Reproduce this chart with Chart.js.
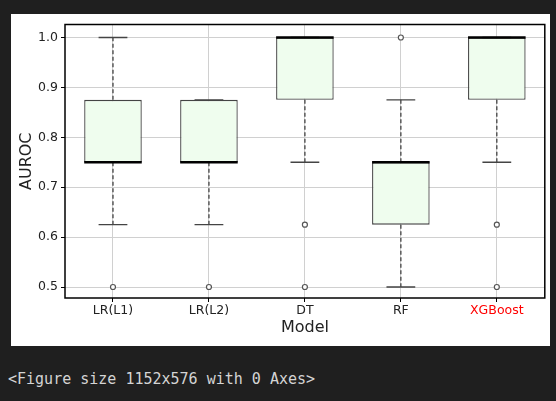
<!DOCTYPE html>
<html>
<head>
<script src="https://cdn.jsdelivr.net/npm/chart.js@4"></script>
<style>
  body { margin: 0; background: #1f1f1f; width: 556px; height: 401px; overflow: hidden; }
  #fig { position: absolute; left: 11px; top: 14px; width: 539px; height: 332px; background: #fff; }
  #out { position: absolute; left: 8px; top: 370px; color: #d4d4d4; font: 15px "DejaVu Sans Mono", monospace; }
</style>
</head>
<body>
<div id="fig"><canvas id="c" width="539" height="332"></canvas></div>
<div id="out">&lt;Figure size 1152x576 with 0 Axes&gt;</div>
<script>
const models = ['LR(L1)', 'LR(L2)', 'DT', 'RF', 'XGBoost'];
const whiskLo = [0.625, 0.625, 0.75, 0.5, 0.75];
const q1 = [0.75, 0.75, 0.875, 0.625, 0.875];
const median = [0.75, 0.75, 1.0, 0.75, 1.0];
const q3 = [0.875, 0.875, 1.0, 0.75, 1.0];
const whiskHi = [1.0, 0.875, 1.0, 0.875, 1.0];
const outliers = [[0.5], [0.5], [0.625, 0.5], [1.0], [0.625, 0.5]];
const yTicks = [0.5, 0.6, 0.7, 0.8, 0.9, 1.0];

const outlierPoints = [];
outliers.forEach((list, i) => list.forEach(v => outlierPoints.push({ x: models[i], y: v })));

// whiskers, caps, medians and frame drawn through the scales
const boxExtras = {
    id: 'boxExtras',
    afterDatasetsDraw(chart) {
        const { ctx, scales: { x, y }, chartArea } = chart;
        const meta = chart.getDatasetMeta(0);
        ctx.save();
        models.forEach((m, i) => {
            const cx = x.getPixelForValue(i);
            const half = meta.data[i].width / 2;
            ctx.strokeStyle = '#444';
            ctx.lineWidth = 1.3;
            ctx.setLineDash([4, 2.5]);
            ctx.beginPath();
            ctx.moveTo(cx, y.getPixelForValue(q1[i])); ctx.lineTo(cx, y.getPixelForValue(whiskLo[i]));
            ctx.moveTo(cx, y.getPixelForValue(q3[i])); ctx.lineTo(cx, y.getPixelForValue(whiskHi[i]));
            ctx.stroke();
            ctx.setLineDash([]);
            ctx.beginPath();
            [whiskLo[i], whiskHi[i]].forEach(v => {
                const py = y.getPixelForValue(v);
                ctx.moveTo(cx - half / 2, py); ctx.lineTo(cx + half / 2, py);
            });
            ctx.stroke();
            ctx.strokeStyle = '#000';
            ctx.lineWidth = 2.5;
            ctx.beginPath();
            const my = y.getPixelForValue(median[i]);
            ctx.moveTo(cx - half, my); ctx.lineTo(cx + half, my);
            ctx.stroke();
        });
        ctx.strokeStyle = '#000';
        ctx.lineWidth = 1.5;
        ctx.strokeRect(chartArea.left, chartArea.top, chartArea.right - chartArea.left, chartArea.bottom - chartArea.top);
        ctx.restore();
    }
};

new Chart(document.getElementById('c'), {
    type: 'bar',
    data: {
        labels: models,
        datasets: [{
            data: models.map((m, i) => [q1[i], q3[i]]),
            backgroundColor: '#effdee',
            borderColor: '#444',
            borderWidth: 1.3,
            borderSkipped: false,
            barPercentage: 0.6,
            categoryPercentage: 1.0
        }, {
            type: 'line',
            data: outlierPoints,
            showLine: false,
            pointRadius: 2.5,
            pointBorderWidth: 1.2,
            pointBackgroundColor: '#fff',
            pointBorderColor: '#555'
        }]
    },
    options: {
        responsive: false,
        animation: false,
        layout: { padding: { top: 6, right: 5, left: 6, bottom: 9 } },
        plugins: { legend: { display: false }, tooltip: { enabled: false } },
        scales: {
            x: {
                offset: true,
                grid: { offset: false, color: '#d0d0d0', tickColor: '#000', tickLength: 4 },
                border: { display: false },
                ticks: {
                    color: ctx => ctx.index === 4 ? '#ff0000' : '#222',
                    font: { family: 'DejaVu Sans', size: 12.5 }, padding: 1, maxRotation: 0
                },
                title: { display: true, text: 'Model', color: '#222', font: { family: 'DejaVu Sans', size: 16 }, padding: 0 },
                afterFit: s => { s.height = 39; }
            },
            y: {
                min: 0.478, max: 1.026,
                afterBuildTicks: s => { s.ticks = yTicks.map(v => ({ value: v })); },
                grid: { color: '#d0d0d0', tickColor: '#000', tickLength: 4 },
                border: { display: false },
                ticks: {
                    color: '#222', font: { family: 'DejaVu Sans', size: 12.5 }, padding: 3,
                    callback: v => v.toFixed(1)
                },
                title: { display: true, text: 'AUROC', color: '#222', font: { family: 'DejaVu Sans', size: 16 }, padding: 0 },
                afterFit: s => { s.width = 48; }
            }
        }
    },
    plugins: [boxExtras]
});
</script>
</body>
</html>
